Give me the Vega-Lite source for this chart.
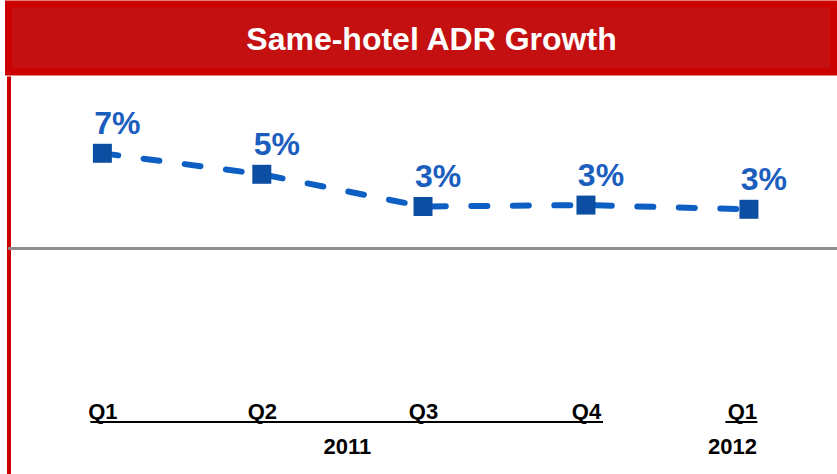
{
  "$schema": "https://vega.github.io/schema/vega-lite/v6.json",
  "padding": {"left": 4.5, "top": 0, "right": 0, "bottom": 0},
  "spacing": 0,
  "background": "white",
  "config": {
    "view": {"stroke": null},
    "font": "Liberation Sans",
    "axisX": {"grid": false, "ticks": false, "tickSize": 0, "domain": false, "labelFont": "Liberation Sans", "labelFontWeight": "bold", "labelColor": "#000000", "labelPadding": 0, "labelBaseline": "alphabetic", "labelFlush": false, "labelOverlap": false},
    "axisY": {"grid": false, "ticks": false, "labels": false, "domainColor": "#CC0000", "domainWidth": 4, "domainCap": "butt"}
  },
  "vconcat": [
    {
      "width": 825,
      "height": 68,
      "view": {"fill": "#C41010", "stroke": "#CC0000", "strokeWidth": 7},
      "data": {"values": [{"title": "Same-hotel ADR Growth"}]},
      "mark": {"type": "text", "color": "#FFFFFF", "fontSize": 32, "fontWeight": "bold", "align": "center", "baseline": "alphabetic", "dx": 10.5, "dy": 12},
      "encoding": {"text": {"field": "title"}}
    },
    {
      "width": 829,
      "height": 399,
      "data": {
        "values": [
          {"quarter": "2011-01-01T00:00", "year": "2011", "growth": 0.068},
          {"quarter": "2011-04-01T00:00", "year": "2011", "growth": 0.053},
          {"quarter": "2011-07-01T00:00", "year": "2011", "growth": 0.030},
          {"quarter": "2011-10-01T00:00", "year": "2011", "growth": 0.031},
          {"quarter": "2012-01-01T00:00", "year": "2012", "growth": 0.028}
        ],
        "format": {"parse": {"quarter": "date"}}
      },
      "resolve": {"axis": {"x": "independent"}},
      "layer": [
        {
          "mark": {"type": "rule", "color": "#8C8C8C", "strokeWidth": 2},
          "encoding": {
            "y": {"datum": 0, "type": "quantitative", "scale": {"domain": [-0.1618, 0.1232], "nice": false, "zero": false}, "title": null}
          }
        },
        {
          "mark": {"type": "line", "color": "#0D5FC4", "strokeWidth": 6, "strokeDash": [16, 25.5], "strokeCap": "round"},
          "encoding": {
            "x": {
              "field": "quarter", "type": "temporal", "title": null,
              "scale": {"domain": [{"year": 2010, "month": 11, "date": 9}, {"year": 2012, "month": 2, "date": 20}], "nice": false},
              "axis": {"orient": "bottom", "tickCount": {"interval": "month", "step": 3}, "format": "Q%q", "labelFontSize": 22, "offset": -57,
                       "labelOffset": {"condition": {"test": "year(datum.value) === 2012", "value": -7}, "value": 0}}
            },
            "y": {"field": "growth", "type": "quantitative", "scale": {"domain": [-0.1618, 0.1232], "nice": false, "zero": false}, "title": null}
          }
        },
        {
          "mark": {"type": "point", "shape": "square", "filled": true, "size": 361, "color": "#0B4EA2", "opacity": 1},
          "encoding": {
            "x": {"field": "quarter", "type": "temporal", "axis": null, "scale": {"domain": [{"year": 2010, "month": 11, "date": 9}, {"year": 2012, "month": 2, "date": 20}], "nice": false}},
            "y": {"field": "growth", "type": "quantitative", "scale": {"domain": [-0.1618, 0.1232], "nice": false, "zero": false}, "title": null}
          }
        },
        {
          "mark": {"type": "text", "fontSize": 32, "fontWeight": "bold", "color": "#1B5EBE", "align": "center", "baseline": "alphabetic", "dx": 15, "dy": -19},
          "encoding": {
            "x": {"field": "quarter", "type": "temporal", "axis": null, "scale": {"domain": [{"year": 2010, "month": 11, "date": 9}, {"year": 2012, "month": 2, "date": 20}], "nice": false}},
            "y": {"field": "growth", "type": "quantitative", "scale": {"domain": [-0.1618, 0.1232], "nice": false, "zero": false}, "title": null},
            "text": {"field": "growth", "type": "quantitative", "format": ".0%"}
          }
        },
        {
          "transform": [
            {"aggregate": [{"op": "min", "field": "quarter", "as": "start"}, {"op": "max", "field": "quarter", "as": "end"}], "groupby": ["year"]}
          ],
          "mark": {"type": "rule", "color": "#000000", "strokeWidth": 2,
                   "xOffset": {"expr": "datum.year === '2012' ? -23.5 : -12"},
                   "x2Offset": {"expr": "datum.year === '2012' ? 8.5 : 17"}},
          "encoding": {
            "x": {
              "field": "start", "type": "temporal", "title": null,
              "scale": {"domain": [{"year": 2010, "month": 11, "date": 9}, {"year": 2012, "month": 2, "date": 20}], "nice": false},
              "axis": {"orient": "bottom", "values": [{"year": 2011, "month": 5, "date": 19}, {"year": 2012, "month": 1, "date": 1}], "format": "%Y", "labelFontSize": 22, "offset": -22,
                       "labelOffset": {"condition": {"test": "year(datum.value) === 2012", "value": -17}, "value": 0}}
            },
            "x2": {"field": "end"},
            "y": {"datum": -0.124, "type": "quantitative", "scale": {"domain": [-0.1618, 0.1232], "nice": false, "zero": false}, "title": null}
          }
        }
      ]
    }
  ]
}
